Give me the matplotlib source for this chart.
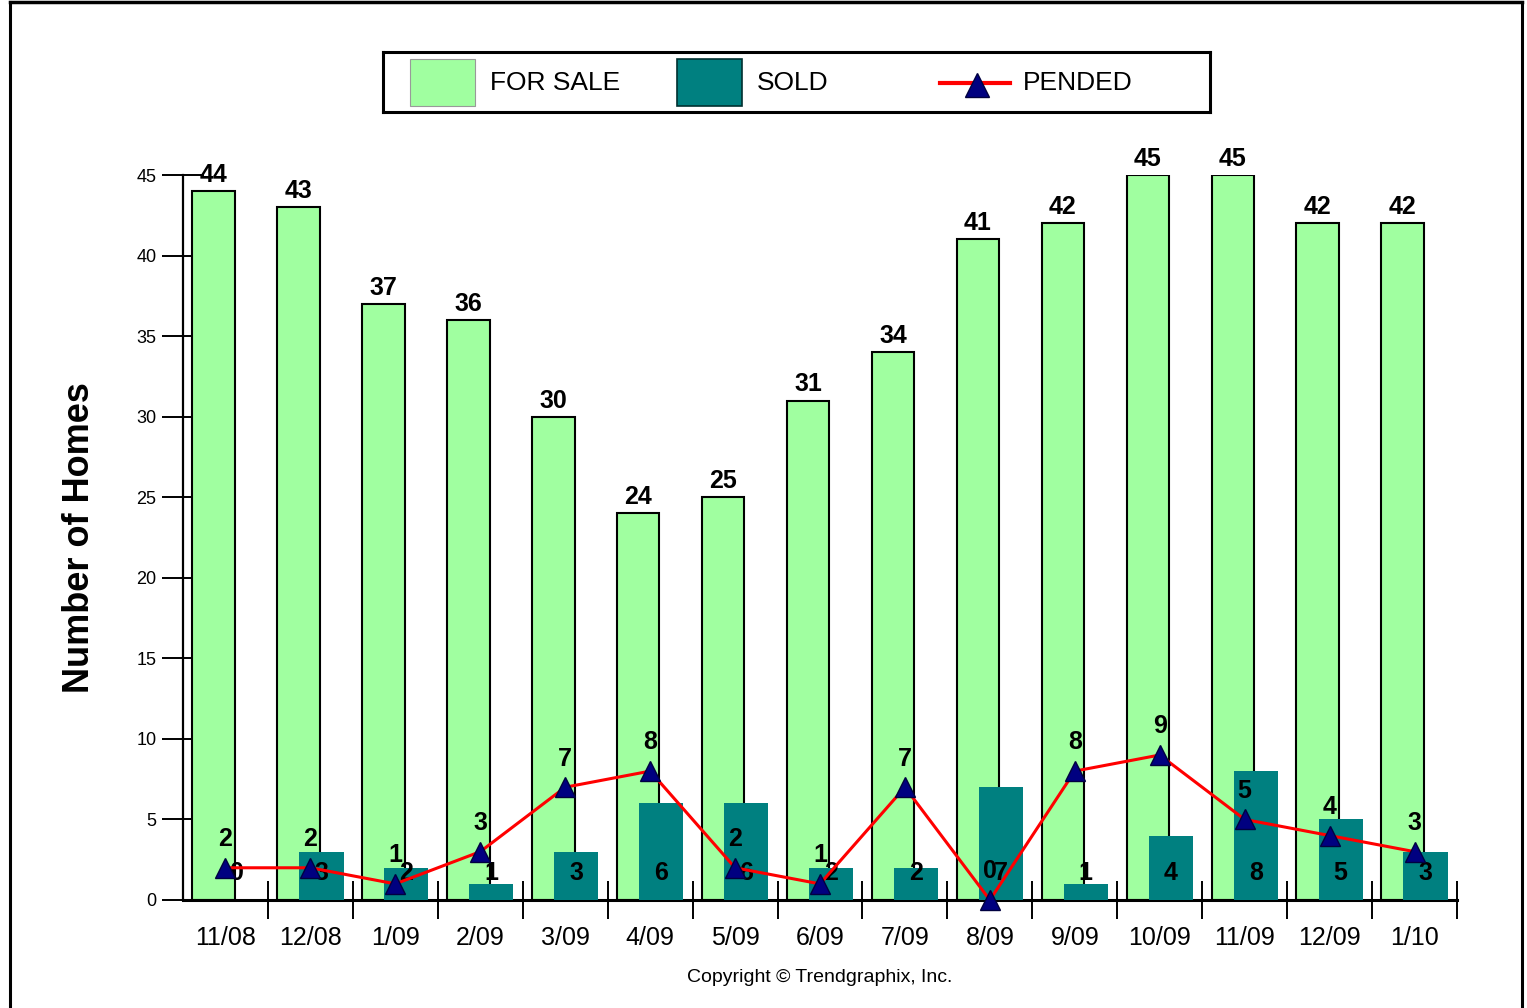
import matplotlib
matplotlib.use("Agg")
import matplotlib.pyplot as plt
import numpy as np
from matplotlib.lines import Line2D
from matplotlib.patches import Rectangle

plt.rcParams["font.family"] = ["Liberation Sans", "DejaVu Sans"]

months = ["11/08", "12/08", "1/09", "2/09", "3/09", "4/09", "5/09", "6/09",
          "7/09", "8/09", "9/09", "10/09", "11/09", "12/09", "1/10"]
for_sale = [44, 43, 37, 36, 30, 24, 25, 31, 34, 41, 42, 45, 45, 42, 42]
sold = [0, 3, 2, 1, 3, 6, 6, 2, 2, 7, 1, 4, 8, 5, 3]
pended = [2, 2, 1, 3, 7, 8, 2, 1, 7, 0, 8, 9, 5, 4, 3]
series_names = ["FOR SALE", "SOLD", "PENDED"]

GREEN = "#A0FFA0"
TEAL = "#008080"
NAVY = "#000080"

W, H = 1527, 1008


def main() -> None:
    fig = plt.figure(figsize=(W / 100, H / 100), dpi=100)
    ax = fig.add_axes([183 / W, 1 - 900 / H, (1457 - 183) / W, (900 - 175) / H])
    x = np.arange(len(months))

    ax.bar(x + 0.11, for_sale, width=0.5, align="edge", color=GREEN,
           edgecolor="black", linewidth=1.5, zorder=2)
    ax.bar(x + 0.37, sold, width=0.52, align="edge", color=TEAL,
           linewidth=0, zorder=3)
    ax.plot(x + 0.5, pended, color="red", lw=2.2, zorder=5)
    ax.plot(x + 0.5, pended, ls="none", marker="^", ms=15, mfc=NAVY,
            mec="#000040", mew=1, zorder=6, clip_on=False)

    for i, v in enumerate(for_sale):
        ax.annotate(str(v), (i + 0.36, v), xytext=(0, 3), textcoords="offset points",
                    ha="center", va="bottom", fontsize=18, fontweight="bold", zorder=7)
    for i, v in enumerate(sold):
        ax.text(i + 0.63, 1.7, str(v), ha="center", va="center",
                fontsize=18, fontweight="bold", zorder=4)
    for i, v in enumerate(pended):
        ax.annotate(str(v), (i + 0.5, v), xytext=(0, 12), textcoords="offset points",
                    ha="center", va="bottom", fontsize=18, fontweight="bold", zorder=7)

    ax.set_xlim(0, len(months))
    ax.set_ylim(0, 45)
    ax.set_axisbelow(True)
    for s in ("top", "right"):
        ax.spines[s].set_visible(False)
    ax.spines["left"].set_linewidth(1.6)
    ax.spines["bottom"].set_linewidth(2.2)

    ax.set_yticks(np.arange(0, 46, 5))
    ax.tick_params(axis="y", direction="inout", length=30, width=1.4,
                   labelsize=13, pad=4)
    ax.set_xticks(np.arange(1, len(months) + 1))
    ax.set_xticklabels([])
    ax.tick_params(axis="x", which="major", direction="inout", length=27, width=1.4)
    ax.set_xticks(x + 0.5, minor=True)
    ax.set_xticklabels(months, minor=True)
    ax.tick_params(axis="x", which="minor", length=0, labelsize=18, pad=19)

    ax.set_ylabel("Number of Homes", fontsize=26, fontweight="bold")
    ax.yaxis.set_label_coords((97 - 183) / 1274, 0.5)

    # legend box
    lax = fig.add_axes([383 / W, 1 - 112 / H, 827 / W, 60 / H])
    lax.set_xlim(0, 827)
    lax.set_ylim(60, 0)
    lax.set_xticks([])
    lax.set_yticks([])
    for s in lax.spines.values():
        s.set_linewidth(2.2)
    lax.add_patch(Rectangle((27, 7), 65, 47, facecolor=GREEN, edgecolor="#999999", lw=0.8))
    lax.text(107, 31, series_names[0], va="center", fontsize=19)
    lax.add_patch(Rectangle((294, 7), 65, 47, facecolor=TEAL, edgecolor="#003030", lw=1.2))
    lax.text(374, 31, series_names[1], va="center", fontsize=19)
    lax.plot([557, 627], [31, 31], color="red", lw=3)
    lax.plot([594], [33], marker="^", ms=17, mfc=NAVY, mec="#000040", ls="none")
    lax.text(640, 31, series_names[2], va="center", fontsize=19)

    fig.text(820 / W, 1 - 978 / H, "Copyright \u00a9 Trendgraphix, Inc.",
             ha="center", va="center", fontsize=14)

    # outer frame
    fig.add_artist(Line2D([10 / W, 10 / W], [0, 1 - 2 / H], color="black", lw=2.2,
                          transform=fig.transFigure))
    fig.add_artist(Line2D([1522 / W, 1522 / W], [0, 1 - 2 / H], color="black", lw=2.2,
                          transform=fig.transFigure))
    fig.add_artist(Line2D([10 / W, 1522 / W], [1 - 2 / H, 1 - 2 / H], color="black", lw=2.5,
                          transform=fig.transFigure))

    fig.savefig("out.png", dpi=100)
    plt.close(fig)


if __name__ == "__main__":
    main()
